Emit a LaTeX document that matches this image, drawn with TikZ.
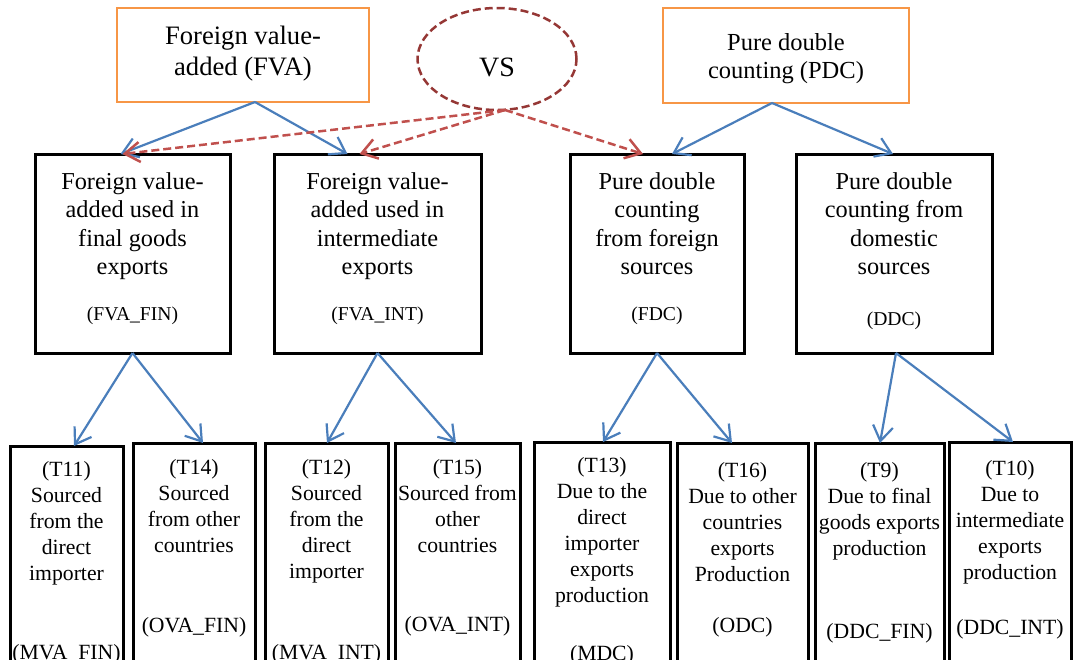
\documentclass[tikz,border=0pt]{standalone}
\usepackage{fontspec}
\setmainfont{Liberation Serif}
\usetikzlibrary{arrows.meta,calc,shapes.geometric}
\definecolor{orangeline}{HTML}{F79646}
\definecolor{blueline}{HTML}{4A7EBB}
\definecolor{redline}{HTML}{C0504D}
\definecolor{darkredline}{HTML}{953735}
\begin{document}
\begin{tikzpicture}[x=1pt,y=-1pt,
  topbox/.style={draw=orangeline, line width=2.5pt, inner sep=0pt, outer sep=0pt},
  midbox/.style={draw=black, line width=3pt, inner sep=0pt, outer sep=0pt, minimum height=199pt},
  lowbox/.style={draw=black, line width=3pt, inner sep=0pt, outer sep=0pt, minimum height=260pt},
  vsell/.style={ellipse, draw=darkredline, line width=2.5pt, dash pattern=on 8pt off 4pt, inner sep=0pt, outer sep=0pt, minimum width=159pt, minimum height=102pt},
  toptext/.style={align=center, inner sep=0pt, anchor=base, font=\fontsize{26.6}{30.8}\selectfont},
  pdctext/.style={align=center, inner sep=0pt, anchor=base, font=\fontsize{24.5}{28.3}\selectfont},
  midtext/.style={align=center, inner sep=0pt, anchor=base, font=\fontsize{24.3}{28.5}\selectfont},
  codetext/.style={align=center, inner sep=0pt, anchor=base, font=\fontsize{19.6}{23}\selectfont},
  lowtext/.style={align=center, inner sep=0pt, anchor=base, font=\fontsize{21.7}{26}\selectfont},
  bluearrow/.style={draw=blueline, line width=2.2pt, -{Straight Barb[length=15pt,width=20pt]}},
  redarrow/.style={draw=redline, line width=2.5pt, dash pattern=on 8pt off 4pt, -{Straight Barb[length=15pt,width=20pt]}}
]
\clip (0,0) rectangle (1073,659);

% top level (anchor base = last line baseline)
\node[topbox, minimum width=252pt, minimum height=94pt] (fva) at (243,55) {};
\node[toptext] (fvat) at (243,75.3) {Foreign value-\\added (FVA)};
\node[topbox, minimum width=246pt, minimum height=95pt] (pdc) at (786,55.5) {};
\node[pdctext] (pdct) at (786,78.3) {Pure double\\counting (PDC)};
\node[vsell] (vs) at (497,59) {};
\node[inner sep=0pt, anchor=base, font=\fontsize{28}{32}\selectfont] (vst) at (497,76) {VS};

% middle level
\node[midbox, minimum width=195pt] (fin) at (132.5,253.5) {};
\node[midtext] (fint) at (132.5,274.5) {Foreign value-\\added used in\\final goods\\exports};
\node[codetext] (finc) at (132.5,320) {(FVA\_FIN)};
\node[midbox, minimum width=207pt] (int) at (377.5,253.5) {};
\node[midtext] (intt) at (377.5,274.5) {Foreign value-\\added used in\\intermediate\\exports};
\node[codetext] (intc) at (377.5,320) {(FVA\_INT)};
\node[midbox, minimum width=174pt] (fdc) at (657,253.5) {};
\node[midtext] (fdct) at (657,274.5) {Pure double\\counting\\from foreign\\sources};
\node[codetext] (fdcc) at (657,320) {(FDC)};
\node[midbox, minimum width=196pt] (ddc) at (894,253.5) {};
\node[midtext] (ddct) at (894,274.5) {Pure double\\counting from\\domestic\\sources};
\node[codetext] (ddcc) at (894,325) {(DDC)};

% bottom level
\node[lowbox, minimum width=113pt] (b1) at (66.5,576) {};
\node[lowtext] (b1t) at (66.5,580) {(T11)\\Sourced\\from the\\direct\\importer};
\node[lowtext] (b1c) at (66.5,659) {(MVA\_FIN)};
\node[lowbox, minimum width=122pt] (b2) at (194,573) {};
\node[lowtext] (b2t) at (194,552) {(T14)\\Sourced\\from other\\countries};
\node[lowtext] (b2c) at (194,632.5) {(OVA\_FIN)};
\node[lowbox, minimum width=123pt] (b3) at (326.5,573) {};
\node[lowtext] (b3t) at (326.5,578) {(T12)\\Sourced\\from the\\direct\\importer};
\node[lowtext] (b3c) at (326.5,659) {(MVA\_INT)};
\node[lowbox, minimum width=125pt] (b4) at (457.5,573) {};
\node[lowtext] (b4t) at (457.5,552) {(T15)\\Sourced from\\other\\countries};
\node[lowtext] (b4c) at (457.5,631) {(OVA\_INT)};
\node[lowbox, minimum width=136pt] (b5) at (602,572) {};
\node[lowtext] (b5t) at (602,602) {(T13)\\Due to the\\direct\\importer\\exports\\production};
\node[lowtext] (b5c) at (602,660) {(MDC)};
\node[lowbox, minimum width=131pt] (b6) at (742.5,573) {};
\node[lowtext] (b6t) at (742.5,581) {(T16)\\Due to other\\countries\\exports\\Production};
\node[lowtext] (b6c) at (742.5,632.5) {(ODC)};
\node[lowbox, minimum width=129pt] (b7) at (879.5,573) {};
\node[lowtext] (b7t) at (879.5,555) {(T9)\\Due to final\\goods exports\\production};
\node[lowtext] (b7c) at (879.5,638) {(DDC\_FIN)};
\node[lowbox, minimum width=122pt] (b8) at (1010,572) {};
\node[lowtext] (b8t) at (1010,579) {(T10)\\Due to\\intermediate\\exports\\production};
\node[lowtext] (b8c) at (1010,634) {(DDC\_INT)};

% connectors top -> middle
\coordinate (fvaout) at ($(fva.south)+(12,0)$);
\coordinate (pdcout) at ($(pdc.south)+(-14,0)$);
\coordinate (vsout) at ($(vs.south)+(8,0)$);
\draw[bluearrow] (fvaout) -- ($(fin.north)+(-12,0)$);
\draw[bluearrow] (fvaout) -- ($(int.north)+(-30,0)$);
\draw[bluearrow] (pdcout) -- ($(fdc.north)+(15,0)$);
\draw[bluearrow] (pdcout) -- ($(ddc.north)+(-1,0)$);
\draw[redarrow] (vsout) -- ($(fin.north)+(-10,0)$);
\draw[redarrow] (vsout) -- ($(int.north)+(-18,0)$);
\draw[redarrow] (vsout) -- ($(fdc.north)+(-14,0)$);

% connectors middle -> bottom
\draw[bluearrow] (fin.south) -- ($(b1.north)+(7.5,0)$);
\draw[bluearrow] (fin.south) -- ($(b2.north)+(9,0)$);
\draw[bluearrow] (int.south) -- ($(b3.north)+(0.5,0)$);
\draw[bluearrow] (int.south) -- ($(b4.north)+(-1.5,0)$);
\draw[bluearrow] (fdc.south) -- ($(b5.north)+(1,0)$);
\draw[bluearrow] (fdc.south) -- ($(b6.north)+(-10.5,0)$);
\draw[bluearrow] ($(ddc.south)+(2,0)$) -- ($(b7.north)+(0.5,0)$);
\draw[bluearrow] ($(ddc.south)+(2,0)$) -- ($(b8.north)+(3,0)$);
\end{tikzpicture}
\end{document}
